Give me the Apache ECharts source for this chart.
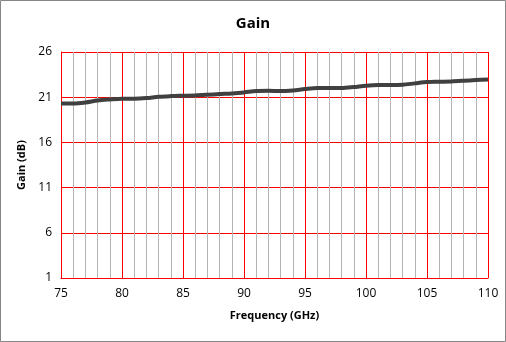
<!DOCTYPE html>
<html><head><meta charset="utf-8">
<script src="https://cdn.jsdelivr.net/npm/echarts@6/dist/echarts.min.js"></script>
<style>html,body{margin:0;padding:0;background:#fff}#c{width:506px;height:342px}</style>
</head><body><div id="c"></div>
<script>
const frequency = [75,76,77,78,79,80,81,82,83,84,85,86,87,88,89,90,91,92,93,94,95,96,97,98,99,100,101,102,103,104,105,106,107,108,109,110];
const gain = [20.31,20.31,20.42,20.64,20.75,20.83,20.83,20.90,21.05,21.12,21.16,21.20,21.27,21.35,21.42,21.53,21.68,21.71,21.68,21.75,21.90,22.01,22.01,22.01,22.12,22.27,22.34,22.34,22.38,22.53,22.67,22.71,22.75,22.82,22.90,22.97];
const titleText = "Gain";
const xName = "Frequency (GHz)";
const yName = "Gain (dB)";

const chart = echarts.init(document.getElementById('c'), null, {renderer:'canvas'});
const font = "'Open Sans', 'Liberation Sans', sans-serif";
chart.setOption({
  animation:false,
  backgroundColor:'#fff',
  title:{text:titleText,left:'center',top:11,textStyle:{fontFamily:font,fontSize:15,fontWeight:'bold',color:'#000'}},
  graphic:[{type:'rect',shape:{x:0.5,y:0.5,width:505,height:341},style:{fill:'none',stroke:'#868686',lineWidth:1},silent:true}],
  grid:{left:61,right:18,top:52,bottom:64,show:false},
  xAxis:{type:'value',min:75,max:110,interval:5,
    name:xName,nameLocation:'middle',nameGap:32,
    nameTextStyle:{fontFamily:font,fontSize:11,fontWeight:'bold',color:'#000'},
    axisLine:{show:true,lineStyle:{color:'#ff0000',width:1}},
    axisTick:{show:false},
    axisLabel:{fontFamily:font,fontSize:12,color:'#000',margin:10},
    splitLine:{show:true,lineStyle:{color:'#ff0000',width:1}},
    minorTick:{show:false,splitNumber:5},
    minorSplitLine:{show:true,lineStyle:{color:'#b4b4b4',width:1}}
  },
  yAxis:{type:'value',min:1,max:26,interval:5,
    name:yName,nameLocation:'middle',nameGap:30,nameRotate:90,
    nameTextStyle:{fontFamily:font,fontSize:11,fontWeight:'bold',color:'#000'},
    axisLine:{show:true,lineStyle:{color:'#ff0000',width:1}},
    axisTick:{show:false},
    axisLabel:{fontFamily:font,fontSize:12,color:'#000',margin:9},
    splitLine:{show:true,lineStyle:{color:'#ff0000',width:1}}
  },
  series:[{type:'line',data:frequency.map((f,i)=>[f,gain[i]]),smooth:0.3,showSymbol:false,
    lineStyle:{color:'#404040',width:4},z:5}]
});
</script></body></html>
